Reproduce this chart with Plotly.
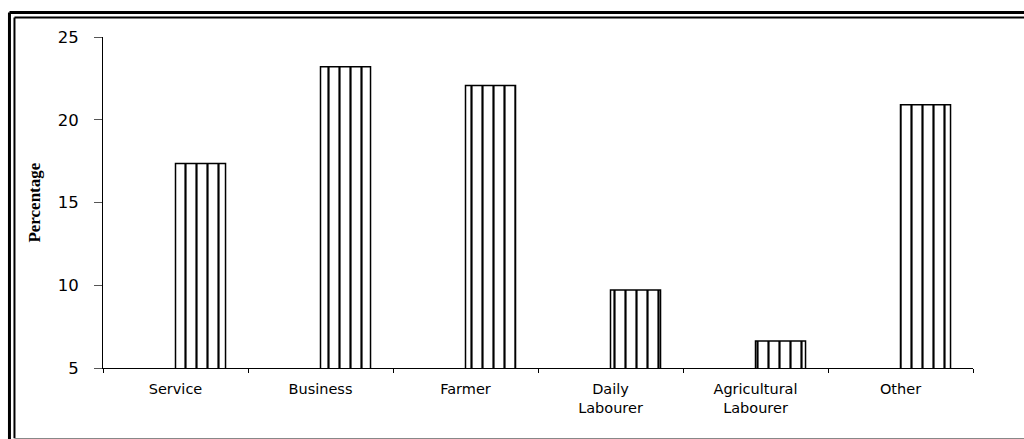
import plotly.graph_objects as go

categories = ["Service", "Business", "Farmer", "Daily<br>Labourer", "Agricultural<br>Labourer", "Other"]
values = [17.35, 23.2, 22.07, 9.72, 6.63, 20.9]
y_ticks = [5, 10, 15, 20, 25]
y_title = "Percentage"

W, H = 1024, 439
L, R = 103, 972.7
T, B = 37, 367.7

def px(x):
    return (x - L) / (R - L)

def py(y):
    return (B - y) / (B - T)

fig = go.Figure()
fig.add_trace(go.Bar(
    x=categories, y=values,
    offset=0, width=0.345,
    marker=dict(color="white", line=dict(color="black", width=1.5),
                pattern=dict(shape="|", fgcolor="black", bgcolor="white", fgopacity=1,
                             size=11, solidity=0.2)),
    showlegend=False,
))

fig.update_layout(
    width=W, height=H,
    margin=dict(l=L, r=W - R, t=T, b=H - B),
    paper_bgcolor="white", plot_bgcolor="white",
    font=dict(family="DejaVu Sans", size=15, color="black"),
    xaxis=dict(range=[-0.5, 5.5], showline=True, linecolor="black", linewidth=1,
               ticks="outside", tickson="boundaries", ticklen=4, tickcolor="black",
               showgrid=False, ticklabelstandoff=8, tickfont=dict(size=14.5)),
    yaxis=dict(range=[5, 25], tickvals=y_ticks, showline=True, linecolor="black", linewidth=1,
               ticks="outside", ticklen=8, tickcolor="#555", showgrid=False, zeroline=False,
               ticklabelstandoff=12, tickfont=dict(size=16.5)),
    annotations=[dict(text="<b>" + y_title + "</b>", textangle=-90, xref="paper", yref="paper",
                      x=px(23), y=py(202), showarrow=False,
                      font=dict(family="Liberation Serif", size=17, color="black"))],
    shapes=[
        dict(type="line", xref="paper", yref="paper", x0=px(9.5), x1=px(9.5), y0=py(12.5), y1=py(460),
             line=dict(color="black", width=3)),
        dict(type="line", xref="paper", yref="paper", x0=px(9.5), x1=px(1040), y0=py(12.5), y1=py(12.5),
             line=dict(color="black", width=3)),
        dict(type="line", xref="paper", yref="paper", x0=px(14.5), x1=px(14.5), y0=py(17.5), y1=py(438),
             line=dict(color="black", width=2)),
        dict(type="line", xref="paper", yref="paper", x0=px(14.5), x1=px(1040), y0=py(17.5), y1=py(17.5),
             line=dict(color="black", width=2)),
        dict(type="line", xref="paper", yref="paper", x0=px(14.5), x1=px(1040), y0=py(438.5), y1=py(438.5),
             line=dict(color="#888", width=1.5)),
    ],
)

fig.write_html("out.html")
